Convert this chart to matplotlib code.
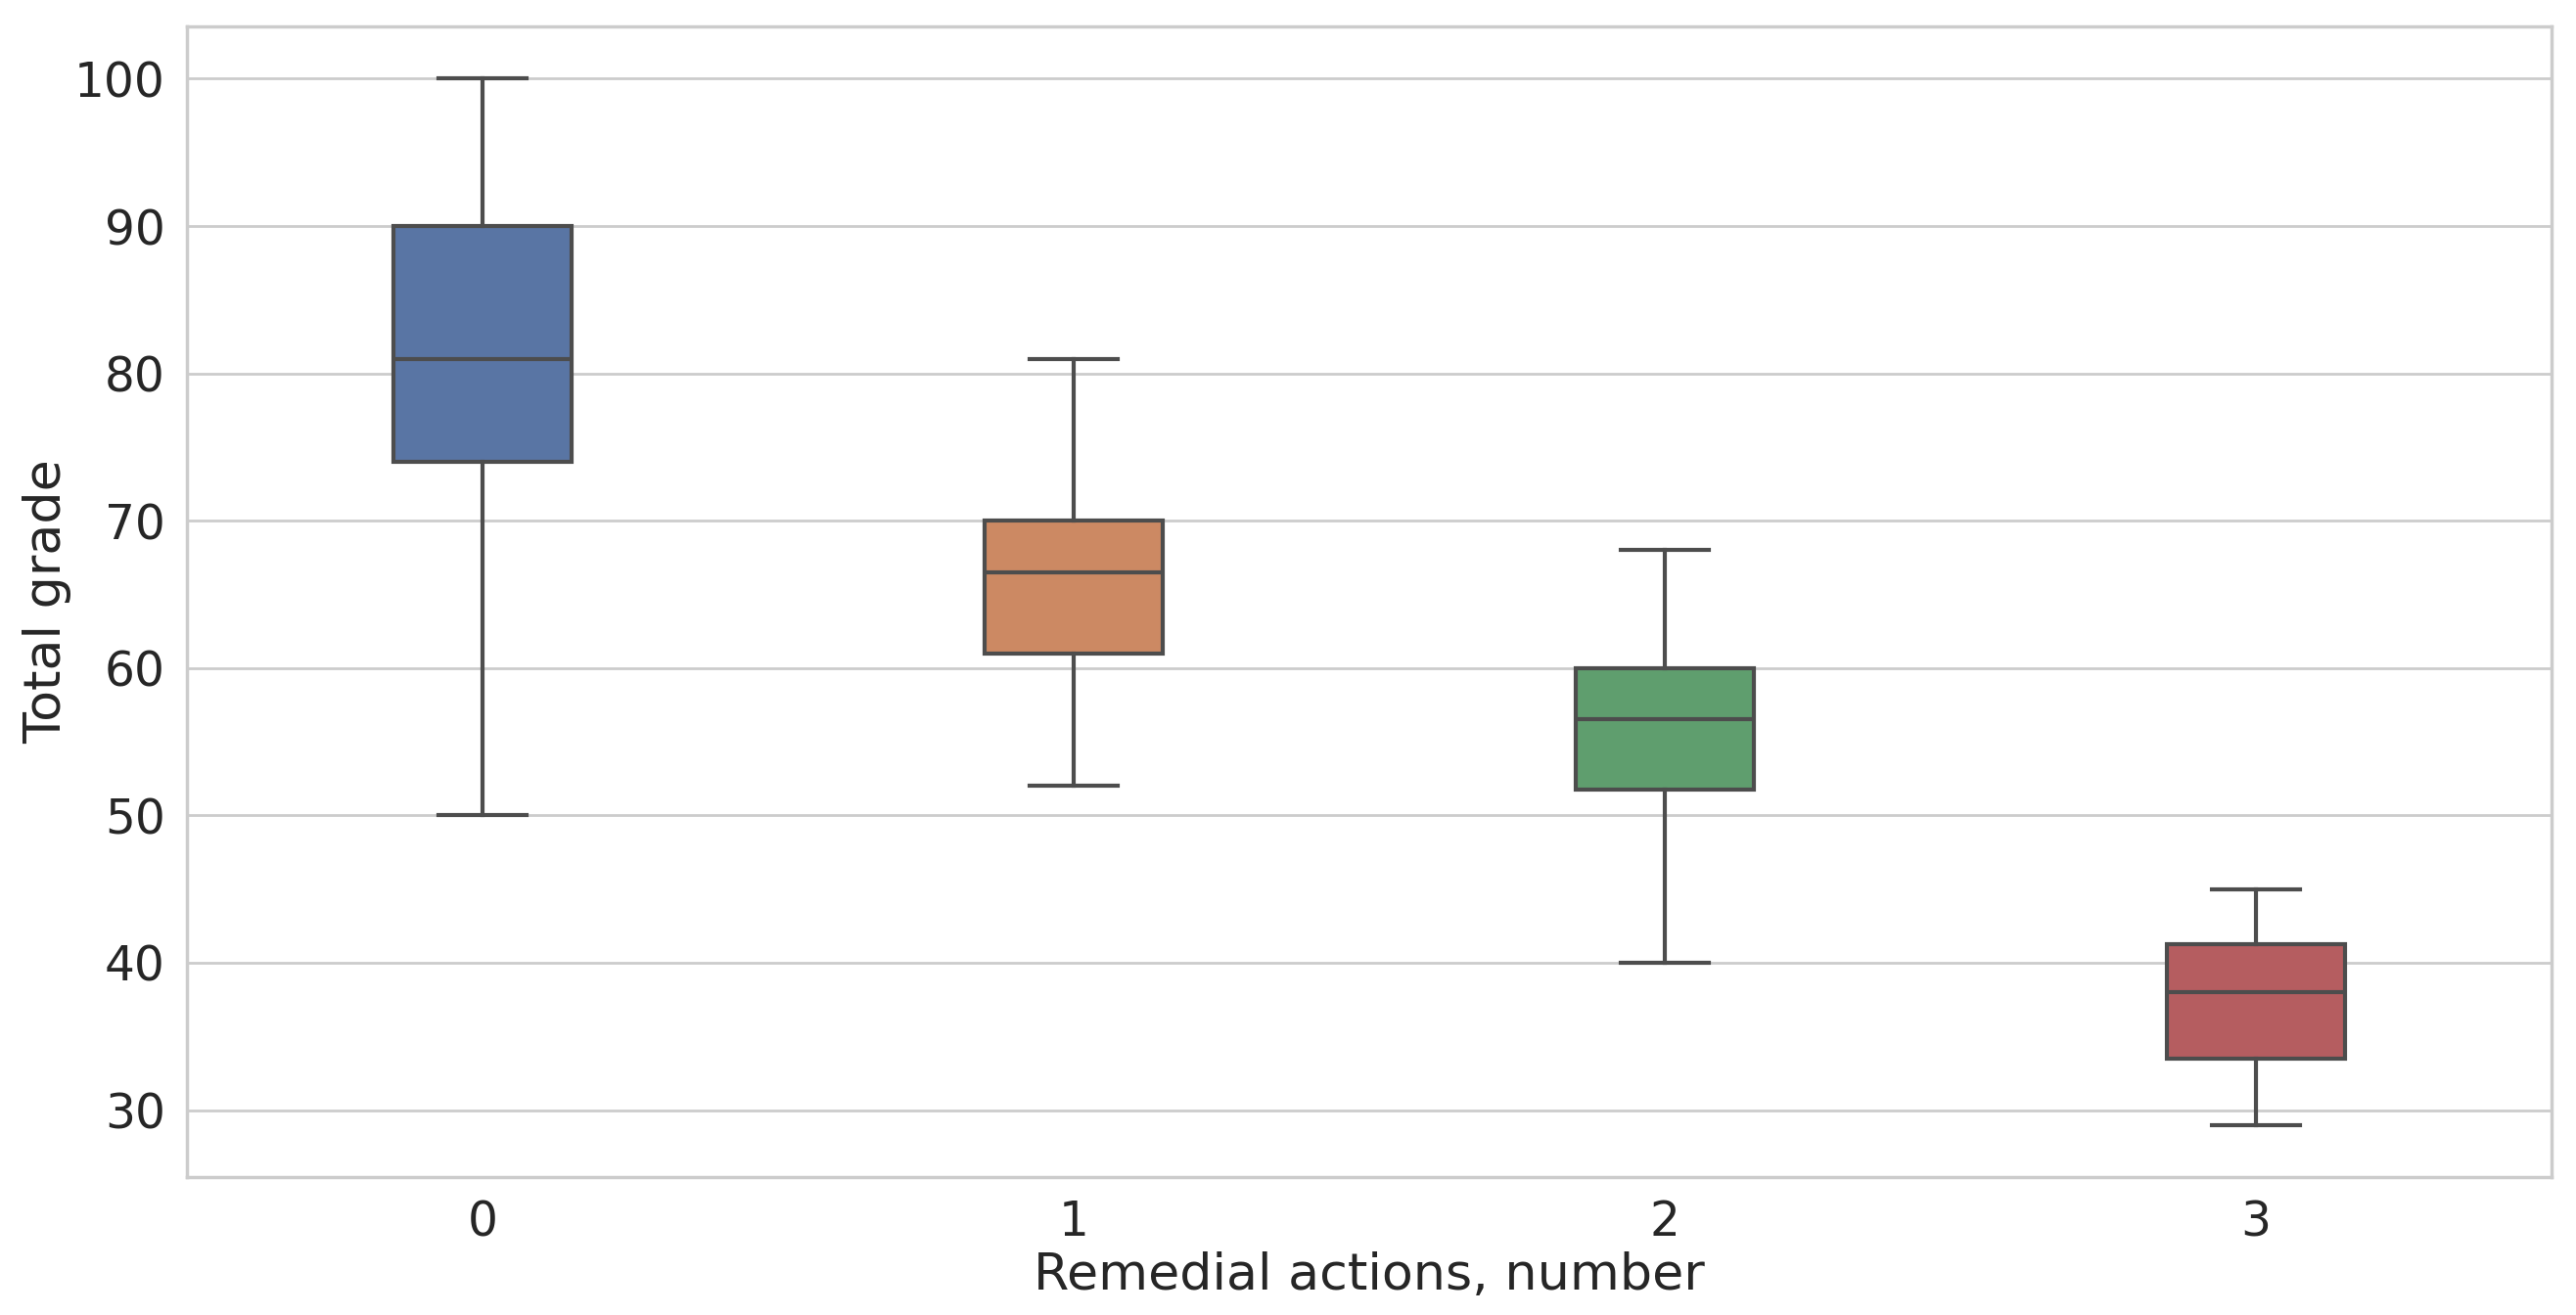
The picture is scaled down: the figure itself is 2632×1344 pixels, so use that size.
import matplotlib
matplotlib.use("Agg")
import matplotlib.pyplot as plt
import numpy as np

# Data
categories = ["0", "1", "2", "3"]
whislo = [50, 52, 40, 29]
q1 = [74, 61, 51.75, 33.5]
med = [81, 66.5, 56.5, 38]
q3 = [90, 70, 60, 41.25]
whishi = [100, 81, 68, 45]
colors = ["#5975a4", "#cc8963", "#5f9e6e", "#b55d60"]

plt.rcParams['font.family'] = ['DejaVu Sans']
fig = plt.figure(figsize=(13.16, 6.72), dpi=200)
ax = fig.add_axes([0.0726, 0.1049, 0.9905 - 0.0726, 0.9799 - 0.1049])

stats = []
for i, c in enumerate(categories):
    stats.append(dict(label=c, whislo=whislo[i], q1=q1[i], med=med[i],
                      q3=q3[i], whishi=whishi[i], fliers=[]))

edge = "#4d4d4d"
lw = 1.5
bp = ax.bxp(stats, positions=np.arange(len(categories)), widths=0.3,
            patch_artist=True, showfliers=False,
            boxprops=dict(edgecolor=edge, linewidth=lw),
            medianprops=dict(color=edge, linewidth=lw),
            whiskerprops=dict(color=edge, linewidth=lw),
            capprops=dict(color=edge, linewidth=lw),
            capwidths=0.15, zorder=3)
for patch, col in zip(bp["boxes"], colors):
    patch.set_facecolor(col)

ax.set_xlim(-0.5, 3.5)
ax.set_ylim(25.45, 103.55)
ax.set_yticks([30, 40, 50, 60, 70, 80, 90, 100])
ax.set_xticks(np.arange(len(categories)))
ax.set_xticklabels(categories)

ax.set_facecolor("white")
ax.grid(axis="y", color="#cccccc", linewidth=1.0, zorder=0)
ax.grid(axis="x", visible=False)
ax.set_axisbelow(True)
for s in ax.spines.values():
    s.set_color("#cccccc")
    s.set_linewidth(1.25)

ax.tick_params(axis="both", length=0, labelsize=17.5, labelcolor="#262626", pad=8)
ax.set_xlabel("Remedial actions, number", fontsize=18.8, color="#262626", labelpad=2)
ax.set_ylabel("Total grade", fontsize=18.8, color="#262626", labelpad=1)

fig.savefig("out.png", dpi=200, facecolor="white")
